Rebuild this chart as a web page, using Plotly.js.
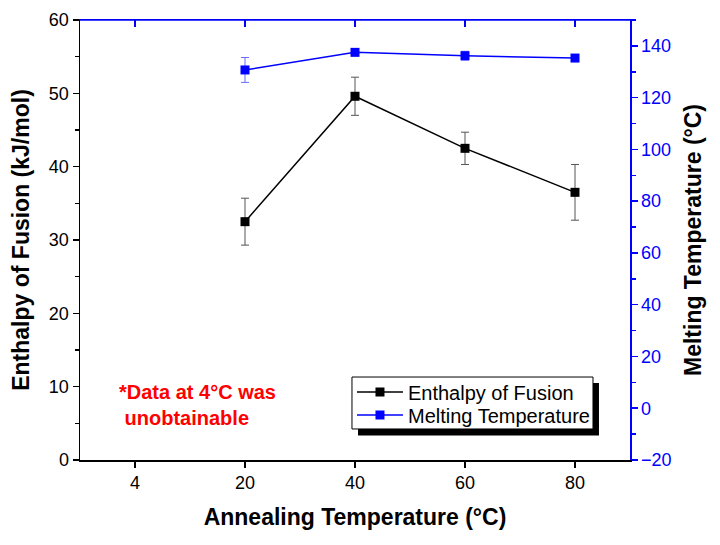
<!DOCTYPE html>
<html>
<head>
<meta charset="utf-8">
<script src="https://cdn.plot.ly/plotly-3.0.1.min.js"></script>
<style>html,body{margin:0;padding:0;background:#fff;}</style>
</head>
<body>
<div id="chart" style="width:720px;height:545px;"></div>
<script>
const categories = ['4', '20', '40', '60', '80'];
const dataTemps = ['20', '40', '60', '80'];
const enthalpy = [32.5, 49.6, 42.5, 36.5];
const enthalpyErr = [3.2, 2.6, 2.2, 3.8];
const meltTemp = [130.7, 137.5, 136.2, 135.3];
const meltErr = [4.8, 0.5, 1.7, 0.6];

const FONT = 'Arial, "Liberation Sans", sans-serif';

const traces = [
  {
    x: dataTemps, y: enthalpy, name: 'Enthalpy of Fusion',
    type: 'scatter', mode: 'lines+markers', legend: 'legend',
    line: {color: '#000000', width: 1.5},
    marker: {symbol: 'square', size: 9, color: '#000000'},
    error_y: {type: 'data', array: enthalpyErr, visible: true, color: '#555555', thickness: 1, width: 4},
    xaxis: 'x', yaxis: 'y'
  },
  {
    x: dataTemps, y: meltTemp, name: 'Melting Temperature',
    type: 'scatter', mode: 'lines+markers', legend: 'legend2',
    line: {color: '#0000ff', width: 1.5},
    marker: {symbol: 'square', size: 9, color: '#0000ff'},
    error_y: {type: 'data', array: meltErr, visible: true, color: '#6a6aff', thickness: 1, width: 4},
    xaxis: 'x2', yaxis: 'y2'
  }
];

const layout = {
  width: 720, height: 545,
  margin: {l: 80, r: 90, t: 20, b: 85},
  paper_bgcolor: '#ffffff', plot_bgcolor: '#ffffff',
  font: {family: FONT, color: '#000000'},
  showlegend: true,
  xaxis: {
    type: 'category', categoryorder: 'array', categoryarray: categories,
    range: [-0.5, 4.5],
    showline: true, linecolor: '#000000', linewidth: 1.5, mirror: false,
    ticks: 'outside', ticklen: 6, tickwidth: 1.5, tickcolor: '#000000',
    showgrid: false, zeroline: false,
    tickfont: {size: 18, color: '#000000'},
    title: {text: '<b>Annealing Temperature (°C)</b>', font: {size: 23, color: '#000000'}, standoff: 17}
  },
  xaxis2: {
    type: 'category', categoryorder: 'array', categoryarray: categories,
    range: [-0.5, 4.5], overlaying: 'x', side: 'top', anchor: 'y2',
    showline: true, linecolor: '#0000ff', linewidth: 1.5,
    ticks: 'inside', ticklen: 7, tickwidth: 1.5, tickcolor: '#0000ff',
    showticklabels: false, showgrid: false, zeroline: false
  },
  yaxis: {
    range: [0, 60], dtick: 10, tick0: 0,
    showline: true, linecolor: '#000000', linewidth: 1.5,
    ticks: 'outside', ticklen: 6, tickwidth: 1.5, tickcolor: '#000000',
    minor: {dtick: 5, ticks: 'outside', ticklen: 4, tickwidth: 1.5, tickcolor: '#000000', showgrid: false},
    showgrid: false, zeroline: false,
    tickfont: {size: 18, color: '#000000'},
    title: {text: '<b>Enthalpy of Fusion (kJ/mol)</b>', font: {size: 23, color: '#000000'}, standoff: 13}
  },
  yaxis2: {
    overlaying: 'y', side: 'right', anchor: 'x2',
    range: [-20, 150], dtick: 20, tick0: 0,
    showline: true, linecolor: '#0000ff', linewidth: 1.5,
    ticks: 'outside', ticklen: 6, tickwidth: 1.5, tickcolor: '#0000ff',
    minor: {dtick: 10, ticks: 'outside', ticklen: 4, tickwidth: 1.5, tickcolor: '#0000ff', showgrid: false},
    showgrid: false, zeroline: false,
    tickfont: {size: 18, color: '#0000ff'},
    title: {text: '<b>Melting Temperature (°C)</b>', font: {size: 23, color: '#000000'}, standoff: 14}
  },
  legend: {
    x: 0.4945, y: 0.1545, xanchor: 'left', yanchor: 'middle',
    bgcolor: 'rgba(0,0,0,0)', borderwidth: 0,
    font: {size: 20, color: '#000000'}, itemwidth: 46
  },
  legend2: {
    x: 0.4945, y: 0.1023, xanchor: 'left', yanchor: 'middle',
    bgcolor: 'rgba(0,0,0,0)', borderwidth: 0,
    font: {size: 20, color: '#000000'}, itemwidth: 46
  },
  shapes: [
    {type: 'line', xref: 'paper', yref: 'paper', x0: 0, x1: 1, y0: 1, y1: 1,
     line: {color: '#0000ff', width: 1.5}, layer: 'above'},
    {type: 'rect', xref: 'paper', yref: 'paper', x0: 0.5055, x1: 0.9436, y0: 0.0557, y1: 0.175,
     fillcolor: '#000000', line: {width: 0}, layer: 'above'},
    {type: 'rect', xref: 'paper', yref: 'paper', x0: 0.4945, x1: 0.9327, y0: 0.0705, y1: 0.1886,
     fillcolor: '#ffffff', line: {color: '#000000', width: 1}, layer: 'above'}
  ],
  annotations: [
    {xref: 'paper', yref: 'paper', x: 0.067, y: 0.1239, xanchor: 'left', yanchor: 'middle',
     align: 'left', showarrow: false,
     text: '<b>*Data at 4°C was<br>\u00a0unobtainable</b>',
     font: {size: 20, color: '#ff0000'}}
  ]
};

Plotly.newPlot('chart', traces, layout, {displayModeBar: false, staticPlot: true});
</script>
</body>
</html>
